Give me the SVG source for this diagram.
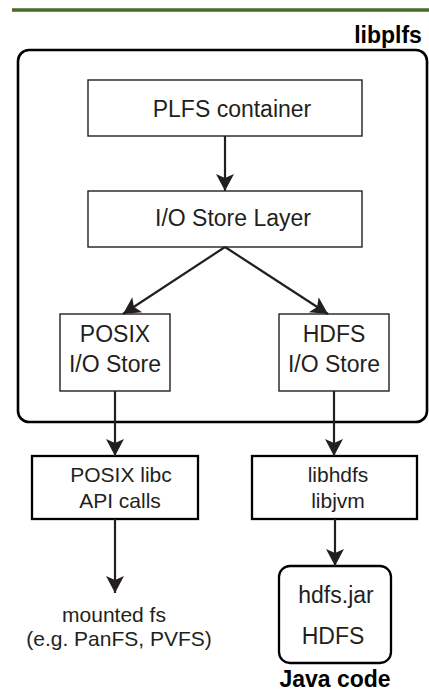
<svg xmlns="http://www.w3.org/2000/svg" width="429" height="696" viewBox="0 0 429 696">
  <defs>
    <marker id="arrow" markerUnits="userSpaceOnUse" markerWidth="20" markerHeight="20" viewBox="-1 -10 20 20" refX="17" refY="0" orient="auto">
      <path d="M0,-9 L17,0 L0,9 L4,0 Z" fill="#231f20"/>
    </marker>
  </defs>
  <style>
    .box { fill: #ffffff; stroke: #231f20; stroke-width: 1.4; }
    .box2 { fill: #ffffff; stroke: #000000; stroke-width: 2.3; }
    .frame { fill: none; stroke: #000000; stroke-width: 2.6; }
    .lbl { font-family: "Liberation Sans", Arial, sans-serif; font-size: 23px; fill: #231f20; text-anchor: middle; }
    .lbl2 { font-family: "Liberation Sans", Arial, sans-serif; font-size: 21px; fill: #231f20; text-anchor: middle; }
    .bold { font-family: "Liberation Sans", Arial, sans-serif; font-size: 23px; font-weight: bold; fill: #000000; text-anchor: middle; }
    .conn { stroke: #231f20; stroke-width: 2.2; fill: none; marker-end: url(#arrow); }
  </style>

  <!-- title rule -->
  <line x1="12" y1="10" x2="429" y2="10" stroke="#4a6a28" stroke-width="3.5"/>

  <!-- library frame -->
  <g id="libplfs">
    <rect class="frame" x="18" y="50" width="409" height="372" rx="11"/>
    <text class="bold" x="388" y="43">libplfs</text>
  </g>

  <g id="plfs-container">
    <rect class="box" x="88" y="80" width="274" height="56"/>
    <text class="lbl" x="232" y="117">PLFS container</text>
  </g>

  <g id="io-store-layer">
    <rect class="box" x="88" y="191" width="274" height="56"/>
    <text class="lbl" x="233" y="226">I/O Store Layer</text>
  </g>

  <g id="posix-store">
    <rect class="box" x="60" y="314" width="110" height="77"/>
    <text class="lbl" x="115" y="342">POSIX</text>
    <text class="lbl" x="115" y="372">I/O Store</text>
  </g>

  <g id="hdfs-store">
    <rect class="box" x="279" y="314" width="110" height="77"/>
    <text class="lbl" x="334" y="342">HDFS</text>
    <text class="lbl" x="334" y="372">I/O Store</text>
  </g>

  <g id="posix-libc">
    <rect class="box2" x="32" y="456" width="166" height="63"/>
    <text class="lbl2" x="121" y="482">POSIX libc</text>
    <text class="lbl2" x="120" y="508">API calls</text>
  </g>

  <g id="libhdfs">
    <rect class="box2" x="252" y="456" width="165" height="63"/>
    <text class="lbl2" x="338" y="482">libhdfs</text>
    <text class="lbl2" x="338" y="508">libjvm</text>
  </g>

  <g id="mounted-fs">
    <text class="lbl2" x="114" y="622">mounted fs</text>
    <text class="lbl2" x="119" y="646">(e.g. PanFS, PVFS)</text>
  </g>

  <g id="hdfs-jar">
    <rect class="box2" x="279" y="566" width="112" height="97" rx="11"/>
    <text class="lbl" x="336" y="603">hdfs.jar</text>
    <text class="lbl" x="333" y="644">HDFS</text>
    <text class="bold" x="335" y="687">Java code</text>
  </g>

  <g id="connectors">
    <line class="conn" x1="225" y1="136" x2="225" y2="191"/>
    <line class="conn" x1="225" y1="247" x2="123" y2="314"/>
    <line class="conn" x1="225" y1="247" x2="328" y2="314"/>
    <line class="conn" x1="115" y1="391" x2="115" y2="456"/>
    <line class="conn" x1="334" y1="391" x2="334" y2="456"/>
    <line class="conn" x1="115" y1="519" x2="115" y2="593"/>
    <line class="conn" x1="335" y1="519" x2="335" y2="566"/>
  </g>
</svg>
